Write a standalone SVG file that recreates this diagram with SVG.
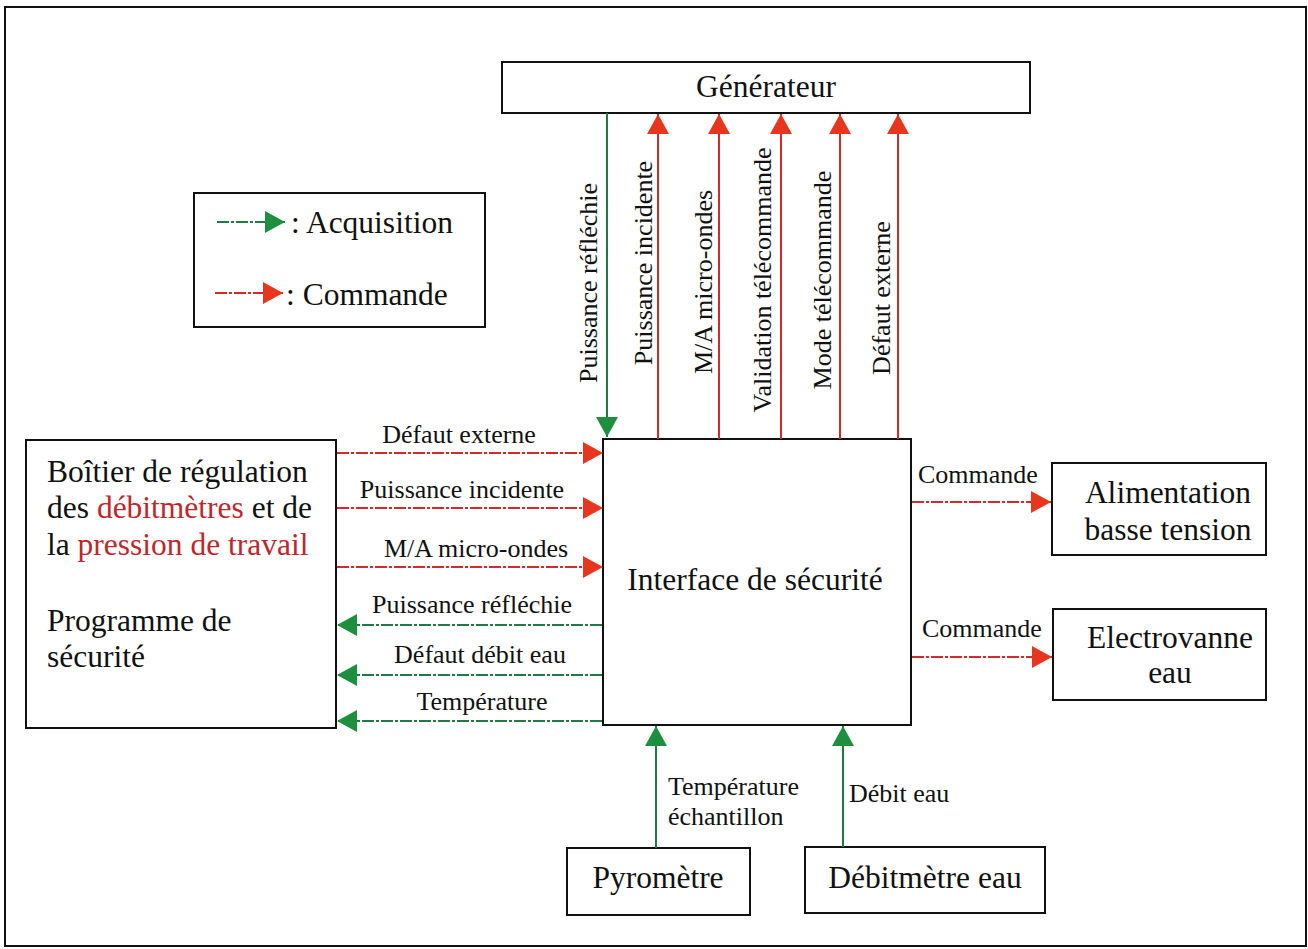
<svg xmlns="http://www.w3.org/2000/svg" width="1308" height="949" viewBox="0 0 1308 949">
<style>
.box{fill:#fff;stroke:#111;stroke-width:2}
.t{font-family:"Liberation Serif","Times New Roman",serif;fill:#111}
.n{font-size:31.5px}
.e{font-size:26px}
.red{fill:#c0262a}
.cr{stroke:#d42a2a;stroke-width:2;fill:none}
.cg{stroke:#1f7a48;stroke-width:2;fill:none}
.dash{stroke-dasharray:12 2 3 2}
</style>
<defs>
<marker id="ar" markerUnits="userSpaceOnUse" markerWidth="20" markerHeight="22" refX="20" refY="11" orient="auto"><path d="M0,0 L20,11 L0,22 Z" fill="#e8361e"/></marker>
<marker id="ag" markerUnits="userSpaceOnUse" markerWidth="20" markerHeight="22" refX="20" refY="11" orient="auto"><path d="M0,0 L20,11 L0,22 Z" fill="#1e8f3e"/></marker>
</defs>
<rect x="5" y="7" width="1301" height="939" fill="#fff" stroke="#111" stroke-width="2"/>

<g id="legend">
<rect class="box" x="194" y="193" width="291" height="134"/>
<line class="cg dash" x1="217" y1="222" x2="285" y2="222" marker-end="url(#ag)"/>
<text class="t n" x="291" y="233">: Acquisition</text>
<line class="cr dash" x1="215" y1="293" x2="283" y2="293" marker-end="url(#ar)"/>
<text class="t n" x="286" y="305">: Commande</text>
</g>

<g id="generateur">
<rect class="box" x="502" y="62" width="528" height="51"/>
<text class="t n" x="766" y="97" text-anchor="middle">Générateur</text>
</g>

<g id="boitier">
<rect class="box" x="26" y="440" width="310" height="288"/>
<text class="t n" x="47" y="482">Boîtier de régulation</text>
<text class="t n" x="47" y="518">des <tspan class="red">débitmètres</tspan> et de</text>
<text class="t n" x="47" y="555">la <tspan class="red">pression de travail</tspan></text>
<text class="t n" x="47" y="631">Programme de</text>
<text class="t n" x="47" y="667">sécurité</text>
</g>

<g id="interface">
<rect class="box" x="603" y="439" width="308" height="286"/>
<text class="t n" x="755" y="590" text-anchor="middle">Interface de sécurité</text>
</g>

<g id="alimentation">
<rect class="box" x="1052" y="463" width="214" height="92"/>
<text class="t n" x="1168" y="503" text-anchor="middle">Alimentation</text>
<text class="t n" x="1168" y="540" text-anchor="middle">basse tension</text>
</g>

<g id="electrovanne">
<rect class="box" x="1053" y="609" width="213" height="91"/>
<text class="t n" x="1170" y="648" text-anchor="middle">Electrovanne</text>
<text class="t n" x="1170" y="683" text-anchor="middle">eau</text>
</g>

<g id="pyrometre">
<rect class="box" x="567" y="848" width="183" height="67"/>
<text class="t n" x="658" y="888" text-anchor="middle">Pyromètre</text>
</g>

<g id="debitmetre">
<rect class="box" x="805" y="847" width="240" height="66"/>
<text class="t n" x="925" y="888" text-anchor="middle">Débitmètre eau</text>
</g>

<g id="connectors">
<line class="cg" x1="607" y1="113" x2="607" y2="437" marker-end="url(#ag)"/>
<line class="cr" x1="658" y1="439" x2="658" y2="114" marker-end="url(#ar)"/>
<line class="cr" x1="719" y1="439" x2="719" y2="114" marker-end="url(#ar)"/>
<line class="cr" x1="781" y1="439" x2="781" y2="114" marker-end="url(#ar)"/>
<line class="cr" x1="840" y1="439" x2="840" y2="114" marker-end="url(#ar)"/>
<line class="cr" x1="898" y1="439" x2="898" y2="114" marker-end="url(#ar)"/>
<text class="t e" transform="translate(597,283) rotate(-90)" text-anchor="middle">Puissance réfléchie</text>
<text class="t e" transform="translate(652,263) rotate(-90)" text-anchor="middle">Puissance incidente</text>
<text class="t e" transform="translate(712,282) rotate(-90)" text-anchor="middle">M/A micro-ondes</text>
<text class="t e" transform="translate(771,280) rotate(-90)" text-anchor="middle">Validation télécommande</text>
<text class="t e" transform="translate(831,280) rotate(-90)" text-anchor="middle">Mode télécommande</text>
<text class="t e" transform="translate(890,298) rotate(-90)" text-anchor="middle">Défaut externe</text>

<line class="cr dash" x1="337" y1="453" x2="603" y2="453" marker-end="url(#ar)"/>
<line class="cr dash" x1="337" y1="508" x2="603" y2="508" marker-end="url(#ar)"/>
<line class="cr dash" x1="337" y1="567" x2="603" y2="567" marker-end="url(#ar)"/>
<line class="cg dash" x1="602" y1="625" x2="337" y2="625" marker-end="url(#ag)"/>
<line class="cg dash" x1="602" y1="675" x2="337" y2="675" marker-end="url(#ag)"/>
<line class="cg dash" x1="602" y1="721" x2="337" y2="721" marker-end="url(#ag)"/>
<text class="t e" x="459" y="443" text-anchor="middle">Défaut externe</text>
<text class="t e" x="462" y="498" text-anchor="middle">Puissance incidente</text>
<text class="t e" x="476" y="557" text-anchor="middle">M/A micro-ondes</text>
<text class="t e" x="472" y="613" text-anchor="middle">Puissance réfléchie</text>
<text class="t e" x="480" y="663" text-anchor="middle">Défaut débit eau</text>
<text class="t e" x="482" y="710" text-anchor="middle">Température</text>

<line class="cr dash" x1="912" y1="502" x2="1051" y2="502" marker-end="url(#ar)"/>
<line class="cr dash" x1="912" y1="657" x2="1052" y2="657" marker-end="url(#ar)"/>
<text class="t e" x="918" y="483">Commande</text>
<text class="t e" x="922" y="637">Commande</text>

<line class="cg" x1="656" y1="848" x2="656" y2="726" marker-end="url(#ag)"/>
<line class="cg" x1="843" y1="847" x2="843" y2="726" marker-end="url(#ag)"/>
<text class="t e" x="668" y="795">Température</text>
<text class="t e" x="668" y="825">échantillon</text>
<text class="t e" x="849" y="802">Débit eau</text>
</g>
</svg>
